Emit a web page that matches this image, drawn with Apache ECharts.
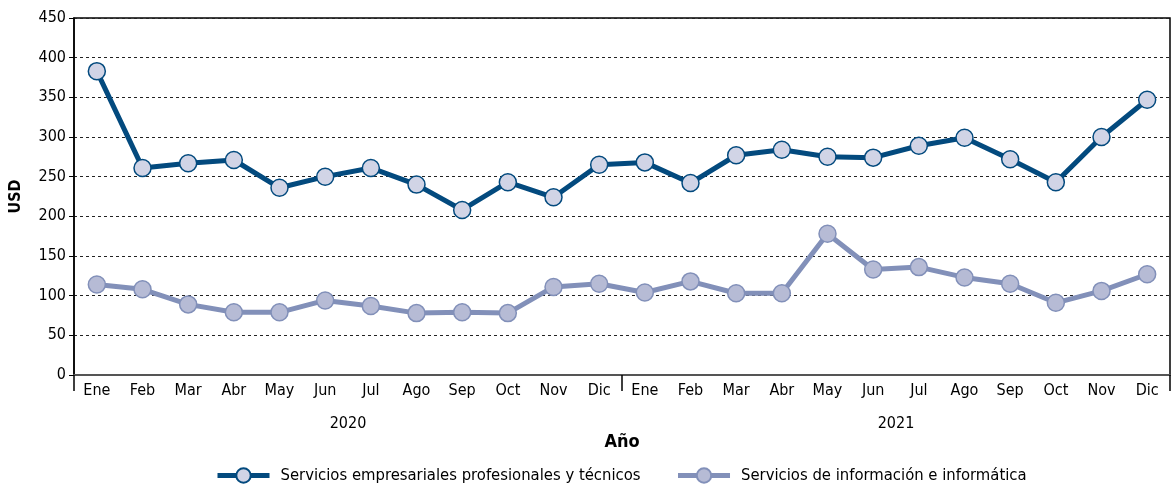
<!DOCTYPE html>
<html>
<head>
<meta charset="utf-8">
<script src="https://cdn.jsdelivr.net/npm/echarts@6/dist/echarts.min.js"></script>
<style>
  html, body {margin: 0; padding: 0; background: #fff;}
  #chart {width: 1174px; height: 486px;}
</style>
</head>
<body>
<div id="chart"></div>
<script>
// month labels, two years
const months = ['Ene', 'Feb', 'Mar', 'Abr', 'May', 'Jun', 'Jul', 'Ago', 'Sep', 'Oct', 'Nov', 'Dic',
    'Ene', 'Feb', 'Mar', 'Abr', 'May', 'Jun', 'Jul', 'Ago', 'Sep', 'Oct', 'Nov', 'Dic'];
const years = ['2020', '2021'];

const profesionales = [383, 261, 267, 271, 236, 250, 261, 240, 208, 243, 224, 265,
    268, 242, 277, 284, 275, 274, 289, 299, 272, 243, 300, 347];
const informacion = [114, 108, 89, 79, 79, 94, 87, 78, 79, 78, 111, 115,
    104, 118, 103, 103, 178, 133, 136, 123, 115, 91, 106, 127];

const FONT = "'DejaVu Sans Condensed', 'Open Sans', sans-serif";
const DARK = '#034a7e';
const LIGHT = '#8290b9';

const chart = echarts.init(document.getElementById('chart'));
chart.setOption({
    animation: false,
    textStyle: {fontFamily: FONT},
    grid: {left: 73, right: 4, top: 18, bottom: 111, show: true, borderColor: '#000', borderWidth: 1.5},
    legend: {
        top: 462, left: 210, itemWidth: 52, itemHeight: 18, itemGap: 35,
        textStyle: {fontSize: 16.5, color: '#000', fontFamily: FONT, padding: [0, 0, 0, 6]},
        data: [
            {name: 'Servicios empresariales profesionales y técnicos', lineStyle: {width: 5}},
            {name: 'Servicios de información e informática', lineStyle: {width: 5}}
        ]
    },
    xAxis: [{
        type: 'category', data: months, boundaryGap: true,
        axisLine: {lineStyle: {color: '#555', width: 2}},
        axisTick: {length: 4, lineStyle: {color: '#333'}},
        axisLabel: {color: '#000', fontSize: 16, margin: 8, interval: 0},
        name: 'Año', nameLocation: 'middle', nameGap: 58,
        nameTextStyle: {fontSize: 18, fontWeight: 'bold', color: '#000', fontFamily: FONT}
    }, {
        type: 'category', data: years, position: 'bottom', boundaryGap: true,
        axisLine: {show: true, lineStyle: {color: 'rgba(0,0,0,0)', width: 0}},
        axisTick: {show: true, length: 16, lineStyle: {color: '#000', width: 1.5}},
        axisLabel: {color: '#000', fontSize: 16, margin: 41}
    }],
    yAxis: {
        type: 'value', min: 0, max: 450, interval: 50,
        axisLine: {show: true, lineStyle: {color: '#000', width: 1.5}},
        axisTick: {show: true, length: 5, lineStyle: {color: '#000'}},
        axisLabel: {color: '#000', fontSize: 16, margin: 8},
        splitLine: {lineStyle: {color: '#222', type: [3, 3], width: 1}},
        name: 'USD', nameLocation: 'middle', nameGap: 50, nameRotate: 90,
        nameTextStyle: {fontSize: 16, fontWeight: 'bold', color: '#000', fontFamily: FONT}
    },
    series: [{
        name: 'Servicios empresariales profesionales y técnicos',
        type: 'line', data: profesionales, xAxisIndex: 0,
        symbol: 'circle', symbolSize: 17,
        lineStyle: {color: DARK, width: 5},
        itemStyle: {color: '#d1d4e6', borderColor: DARK, borderWidth: 1.5}
    }, {
        name: 'Servicios de información e informática',
        type: 'line', data: informacion, xAxisIndex: 0,
        symbol: 'circle', symbolSize: 17,
        lineStyle: {color: LIGHT, width: 5},
        itemStyle: {color: '#b6bbd5', borderColor: LIGHT, borderWidth: 1.5}
    }]
});
</script>
</body>
</html>
